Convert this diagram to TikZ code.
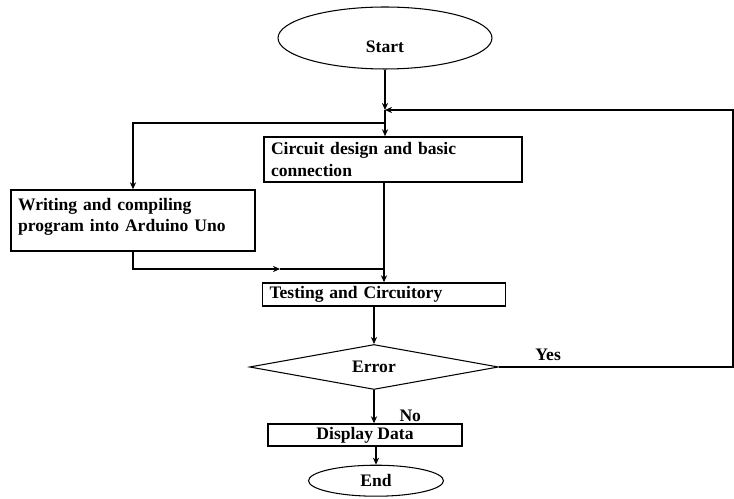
\documentclass[tikz,border=0pt]{standalone}
\usepackage{fontspec}
\setmainfont{Liberation Serif}
\usetikzlibrary{positioning}
\usetikzlibrary{shapes.geometric,arrows.meta}
\tikzset{
  flowbox/.style={draw, line width=0.8pt, inner xsep=0.14cm, align=left, font=\bfseries},
  flowterm/.style={draw, ellipse, line width=0.6pt, inner sep=0pt, font=\bfseries},
  flowcond/.style={draw, diamond, aspect=5.5, line width=0.6pt, inner sep=0pt, font=\bfseries},
  flowline/.style={line width=0.8pt}
}

\begin{document}
\begin{tikzpicture}[x=0.02cm, y=-0.02cm, >={Stealth[length=4pt,width=3.5pt]}, every path/.style={flowline}]
  \useasboundingbox (0,0) rectangle (734,499);

  \node [flowterm, minimum width=4.28cm, minimum height=1.24cm, text height=0.6cm, text depth=0pt] (start) at (385,38) {Start};
  \node [flowbox, text width=4.88cm, minimum height=0.9cm] (circd) at (393,159.5) {Circuit design and basic\\connection};
  \node [flowbox, text width=4.6cm, minimum height=1.22cm] (writep) at (133,220.5) {Writing and compiling\\program into Arduino Uno\\[-6pt]~};
  \node [flowbox, text width=4.58cm, minimum height=0.46cm, inner ysep=0pt] (testc) at (384,294.5) {Testing and Circuitory};
  \node [flowcond, minimum width=4.98cm, minimum height=0.9cm] (err) at (374,367) {Error};
  \node [flowbox, align=center, minimum width=3.88cm, minimum height=0.44cm, inner ysep=0pt] (disp) at (365,435) {Display Data};
  \node [flowterm, minimum width=2.7cm, minimum height=0.62cm, below=0.36cm of disp.south, anchor=north, xshift=0.22cm] (stop) {End};

  \coordinate (jn) at (385,110);
  \coordinate (br) at (385,123);
  \coordinate (mid) at (280,269);
  \coordinate (mg) at (384,269);
  \coordinate (rc) at (733,110);

  \draw [->] (start) -- (jn);
  \draw [->] (jn) -- (jn |- circd.north);
  \draw [->] (br) -| (writep.north);
  \draw [->] (writep.south) |- (mid);
  \draw (mid) -- (mg);
  \draw [->] (circd.south -| testc.north) -- (testc.north);
  \draw [->] (testc.south -| err.north) -- (err.north);
  \draw [->] (err.south) -- node [pos=0.79, right=0.38cm, font=\bfseries] {No} (err.south |- disp.north);
  \draw [->] (disp.south -| stop.north) -- (stop.north);
  \draw [->] (err.east) -- node [above, pos=0.21, font=\bfseries] {Yes} (err.east -| rc) -- (rc) -- (jn);
\end{tikzpicture}
\end{document}
